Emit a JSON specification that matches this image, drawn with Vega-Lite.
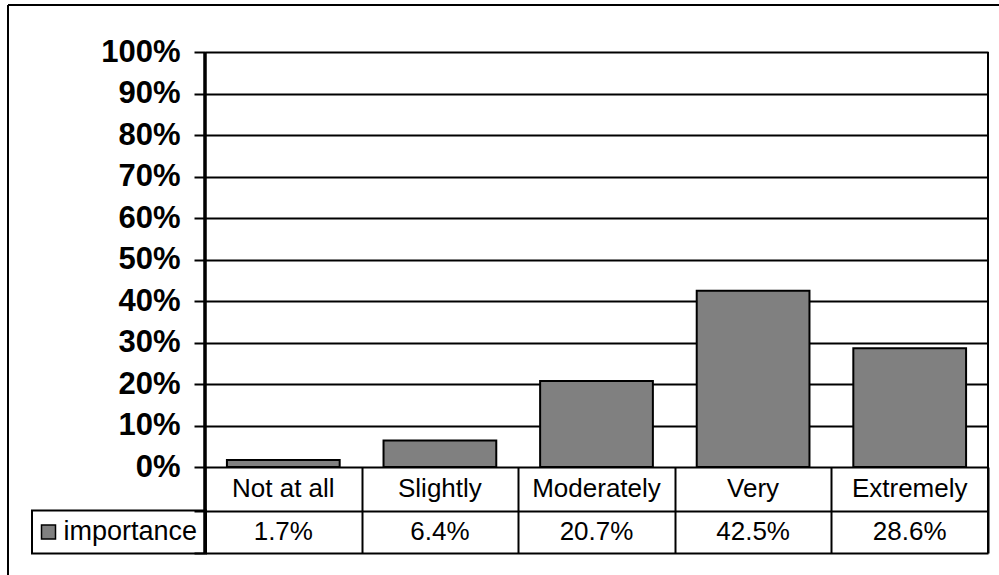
{
  "$schema": "https://vega.github.io/schema/vega-lite/v6.json",
  "width": 991,
  "height": 570,
  "autosize": {"type": "none"},
  "padding": {"left": 8, "top": 5, "right": 0, "bottom": 0},
  "background": "white",
  "config": {
    "font": "Liberation Sans",
    "view": {"stroke": null},
    "legend": {"strokeColor": "black", "strokeWidth": 2, "padding": 8}
  },
  "data": {
    "values": [
      {"level": "Not at all", "share": 0.017, "series": "importance"},
      {"level": "Slightly", "share": 0.064, "series": "importance"},
      {"level": "Moderately", "share": 0.207, "series": "importance"},
      {"level": "Very", "share": 0.425, "series": "importance"},
      {"level": "Extremely", "share": 0.286, "series": "importance"}
    ]
  },
  "layer": [
    {
      "mark": {"type": "bar", "width": {"band": 0.72}, "stroke": "black", "strokeWidth": 2},
      "encoding": {
        "x": {
          "field": "level",
          "type": "nominal",
          "sort": null,
          "scale": {"domain": ["Not at all", "Slightly", "Moderately", "Very", "Extremely"], "range": [197, 980], "paddingInner": 0, "paddingOuter": 0},
          "axis": {
            "title": null,
            "labels": false,
            "domain": false,
            "grid": false,
            "ticks": true,
            "tickBand": "extent",
            "tickSize": 86,
            "tickWidth": 2,
            "tickColor": "black",
            "offset": -108
          }
        },
        "y": {
          "field": "share",
          "type": "quantitative",
          "scale": {"domain": [-0.2072, 1], "range": [548, 47], "nice": false, "zero": false},
          "axis": {
            "title": null,
            "values": [-0.2072, -0.1048, 0, 0.1, 0.2, 0.3, 0.4, 0.5, 0.6, 0.7, 0.8, 0.9, 1],
            "format": ".0%",
            "labelExpr": "datum.value >= 0 ? datum.label : ''",
            "labelFont": "Liberation Sans",
            "labelFontSize": 31,
            "labelFontWeight": "bold",
            "labelColor": "black",
            "labelPadding": 14,
            "labelOverlap": false,
            "labelFlush": false,
            "tickSize": 11,
            "tickWidth": 2,
            "tickColor": "black",
            "domain": false,
            "grid": true,
            "gridColor": "black",
            "gridWidth": 2,
            "gridOpacity": 1,
            "offset": -197
          }
        },
        "y2": {"datum": 0},
        "color": {
          "field": "series",
          "type": "nominal",
          "scale": {"range": ["#808080"]},
          "legend": {
            "title": null,
            "orient": "none",
            "legendX": 24,
            "legendY": 505.5,
            "symbolType": "square",
            "symbolSize": 196,
            "symbolOffset": -5,
            "symbolStrokeColor": "black",
            "symbolStrokeWidth": 1.5,
            "symbolOpacity": 1,
            "labelFont": "Liberation Sans",
            "labelFontSize": 27,
            "labelColor": "black",
            "labelOffset": 1.5,
            "padding": 8,
            "strokeColor": "black"
          }
        }
      }
    },
    {
      "mark": {"type": "rule", "color": "black", "strokeWidth": 2},
      "encoding": {
        "x": {"datum": "Extremely", "type": "nominal", "bandPosition": 1,
          "scale": {"domain": ["Not at all", "Slightly", "Moderately", "Very", "Extremely"], "range": [197, 980], "paddingInner": 0, "paddingOuter": 0},
          "axis": null},
        "y": {"datum": 1, "type": "quantitative",
          "scale": {"domain": [-0.2072, 1], "range": [548, 47], "nice": false, "zero": false},
          "axis": null},
        "y2": {"datum": -0.2072}
      }
    },
    {
      "mark": {"type": "rule", "color": "black", "strokeWidth": 2.5},
      "encoding": {
        "x": {"datum": "Not at all", "type": "nominal", "bandPosition": 0,
          "scale": {"domain": ["Not at all", "Slightly", "Moderately", "Very", "Extremely"], "range": [197, 980], "paddingInner": 0, "paddingOuter": 0},
          "axis": null},
        "y": {"datum": 1, "type": "quantitative",
          "scale": {"domain": [-0.2072, 1], "range": [548, 47], "nice": false, "zero": false},
          "axis": null},
        "y2": {"datum": -0.2072}
      }
    },
    {
      "mark": {"type": "text", "fontSize": 26, "color": "black", "font": "Liberation Sans", "baseline": "middle"},
      "encoding": {
        "x": {"field": "level", "type": "nominal", "sort": null,
          "scale": {"domain": ["Not at all", "Slightly", "Moderately", "Very", "Extremely"], "range": [197, 980], "paddingInner": 0, "paddingOuter": 0},
          "axis": null},
        "y": {"datum": -0.0524, "type": "quantitative",
          "scale": {"domain": [-0.2072, 1], "range": [548, 47], "nice": false, "zero": false},
          "axis": null},
        "text": {"field": "level"}
      }
    },
    {
      "mark": {"type": "text", "fontSize": 26, "color": "black", "font": "Liberation Sans", "baseline": "middle"},
      "encoding": {
        "x": {"field": "level", "type": "nominal", "sort": null,
          "scale": {"domain": ["Not at all", "Slightly", "Moderately", "Very", "Extremely"], "range": [197, 980], "paddingInner": 0, "paddingOuter": 0},
          "axis": null},
        "y": {"datum": -0.156, "type": "quantitative",
          "scale": {"domain": [-0.2072, 1], "range": [548, 47], "nice": false, "zero": false},
          "axis": null},
        "text": {"field": "share", "format": ".1%"}
      }
    },
    {
      "mark": {"type": "rule", "color": "black", "strokeWidth": 2},
      "encoding": {
        "x": {"datum": 0, "type": "quantitative", "scale": {"domain": [0, 1], "nice": false}, "axis": null},
        "x2": {"datum": 1},
        "y": {"datum": 1, "type": "quantitative", "scale": {"domain": [0, 1], "nice": false}, "axis": null}
      }
    },
    {
      "mark": {"type": "rule", "color": "black", "strokeWidth": 2},
      "encoding": {
        "x": {"datum": 0, "type": "quantitative", "scale": {"domain": [0, 1], "nice": false}, "axis": null},
        "y": {"datum": 0, "type": "quantitative", "scale": {"domain": [0, 1], "nice": false}, "axis": null},
        "y2": {"datum": 1}
      }
    }
  ],
  "resolve": {"scale": {"x": "independent", "y": "independent"}, "axis": {"x": "independent", "y": "independent"}}
}
